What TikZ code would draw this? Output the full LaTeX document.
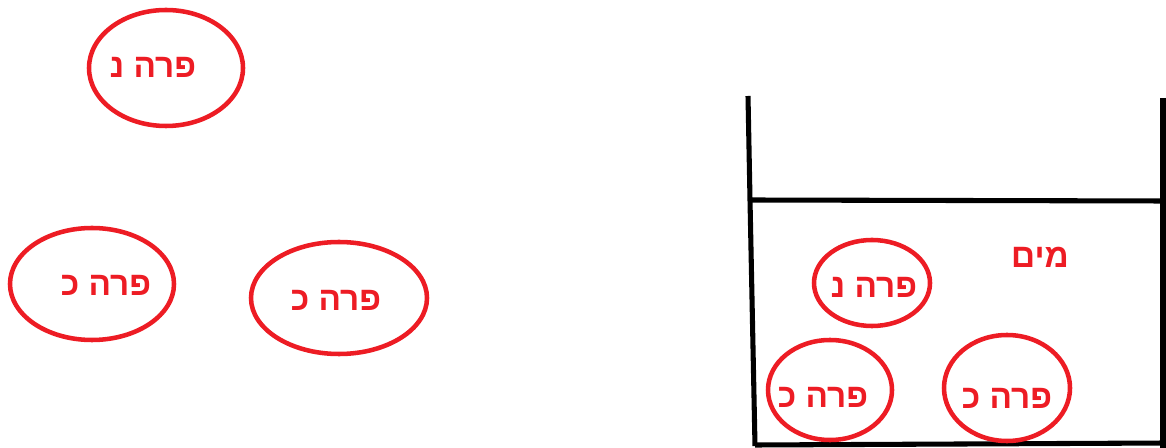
\documentclass[tikz,border=0pt]{standalone}
\usepackage{fontspec}
\usepackage{xcolor}
\usetikzlibrary{shapes}
\TeXXeTstate=1
\newfontfamily\hebfont[Script=Hebrew]{Liberation Sans}
\definecolor{paintred}{HTML}{ED1C24}
\tikzset{cowring/.style = {draw=paintred, line width=3.4pt},
  cowtext/.style = {text=paintred, font=\hebfont\bfseries\fontsize{25}{28}\selectfont, inner sep=0pt},
  wall/.style = {draw=black, line width=3.8pt}}

\begin{document}
\begin{tikzpicture}[x=0.75pt, y=-0.75pt]
\useasboundingbox (0,0) rectangle (1166,448);
% cows outside
\draw[cowring] (166,68) ellipse (77 and 58);
\draw[cowring] (92,284) ellipse (82 and 56);
\draw[cowring] (339,298) ellipse (88 and 56);
\node[cowtext] (lblA) at (153,67) {\beginR פרה נ\endR};
\node[cowtext] (lblB) at (106,285) {\beginR פרה כ\endR};
\node[cowtext] (lblC) at (336,300) {\beginR פרה כ\endR};
% the vessel
\draw[wall] (748,96) -- (750,200) -- (755,446);
\draw[wall] (1163,98) -- (1163,448);
\draw[wall] (750,200) -- (1166,201);
\draw[wall] (755,445) -- (1166,443);
% cows in the water
\draw[cowring] (872,283) ellipse (58 and 43);
\draw[cowring] (830,390) ellipse (62 and 50);
\draw[cowring] (1007,388) ellipse (63 and 53);
\node[cowtext] (lblD) at (874,287) {\beginR פרה נ\endR};
\node[cowtext] (lblE) at (823,397) {\beginR פרה כ\endR};
\node[cowtext] (lblF) at (1007,398) {\beginR פרה כ\endR};
\node[cowtext] (water) at (1040,257) {\beginR מים\endR};
\end{tikzpicture}
\end{document}
